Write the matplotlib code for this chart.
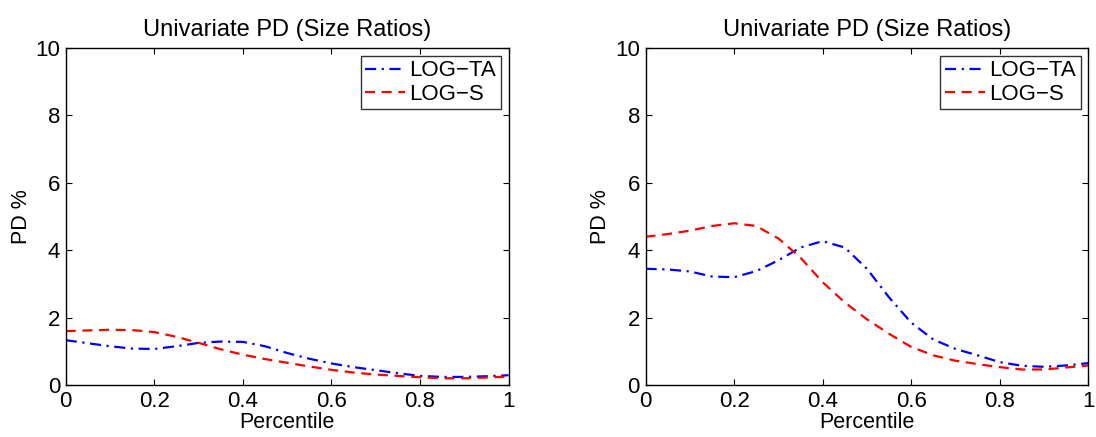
import numpy as np
import matplotlib
matplotlib.use("Agg")
import matplotlib.pyplot as plt

plt.rcParams['font.family'] = ['Liberation Sans', 'DejaVu Sans']

# percentile grid
pct = [0.0, 0.05, 0.1, 0.15, 0.2, 0.25, 0.3, 0.35, 0.4, 0.45, 0.5,
       0.55, 0.6, 0.65, 0.7, 0.75, 0.8, 0.85, 0.9, 0.95, 1.0]

# left panel
left_ta = [1.33, 1.24, 1.15, 1.08, 1.07, 1.15, 1.25, 1.29, 1.28, 1.15, 0.95,
           0.78, 0.64, 0.53, 0.44, 0.35, 0.27, 0.24, 0.24, 0.26, 0.29]
left_s = [1.60, 1.62, 1.64, 1.63, 1.57, 1.43, 1.25, 1.06, 0.90, 0.77, 0.66,
          0.55, 0.45, 0.37, 0.31, 0.27, 0.23, 0.20, 0.20, 0.22, 0.25]

# right panel
right_ta = [3.45, 3.43, 3.37, 3.22, 3.20, 3.38, 3.70, 4.08, 4.27, 4.08, 3.45,
            2.60, 1.85, 1.35, 1.07, 0.88, 0.68, 0.57, 0.54, 0.58, 0.65]
right_s = [4.40, 4.48, 4.58, 4.72, 4.80, 4.72, 4.35, 3.78, 3.05, 2.45, 1.95,
           1.52, 1.13, 0.88, 0.72, 0.62, 0.53, 0.46, 0.46, 0.52, 0.58]

xticks = [0, 0.2, 0.4, 0.6, 0.8, 1]
xticklabels = ['0', '0.2', '0.4', '0.6', '0.8', '1']
yticks = [0, 2, 4, 6, 8, 10]

fig = plt.figure(figsize=(10.96, 4.37), dpi=100)
ax1 = fig.add_axes([0.060, 0.119, 0.404, 0.771])
ax2 = fig.add_axes([0.589, 0.119, 0.404, 0.771])

for ax, ta, s in [(ax1, left_ta, left_s), (ax2, right_ta, right_s)]:
    ax.plot(pct, ta, color='blue', linewidth=1.6, label='LOG\u2212TA',
            dashes=[5, 2.5, 1, 2.5])
    ax.plot(pct, s, color='red', linewidth=1.6, label='LOG\u2212S',
            dashes=[4.5, 3])
    ax.set_xlim(0, 1)
    ax.set_ylim(0, 10)
    ax.set_xticks(xticks)
    ax.set_xticklabels(xticklabels)
    ax.set_yticks(yticks)
    ax.tick_params(direction='in', top=True, right=True, labelsize=16, length=4, pad=4)
    ax.set_title('Univariate PD (Size Ratios)', fontsize=17, pad=9)
    ax.set_xlabel('Percentile', fontsize=15.5, labelpad=0)
    ax.set_ylabel('PD %', fontsize=15.5)
    ax.yaxis.set_label_coords(-0.077, 0.5)
    for sp in ax.spines.values():
        sp.set_linewidth(1)
    leg = ax.legend(loc='upper right', fontsize=16, frameon=True, fancybox=False,
                    edgecolor='black', handlelength=1.8, handletextpad=0.2,
                    borderpad=0.2, labelspacing=0.12, borderaxespad=0.35)
    leg.get_frame().set_linewidth(1)

fig.savefig('out.png', dpi=100)
